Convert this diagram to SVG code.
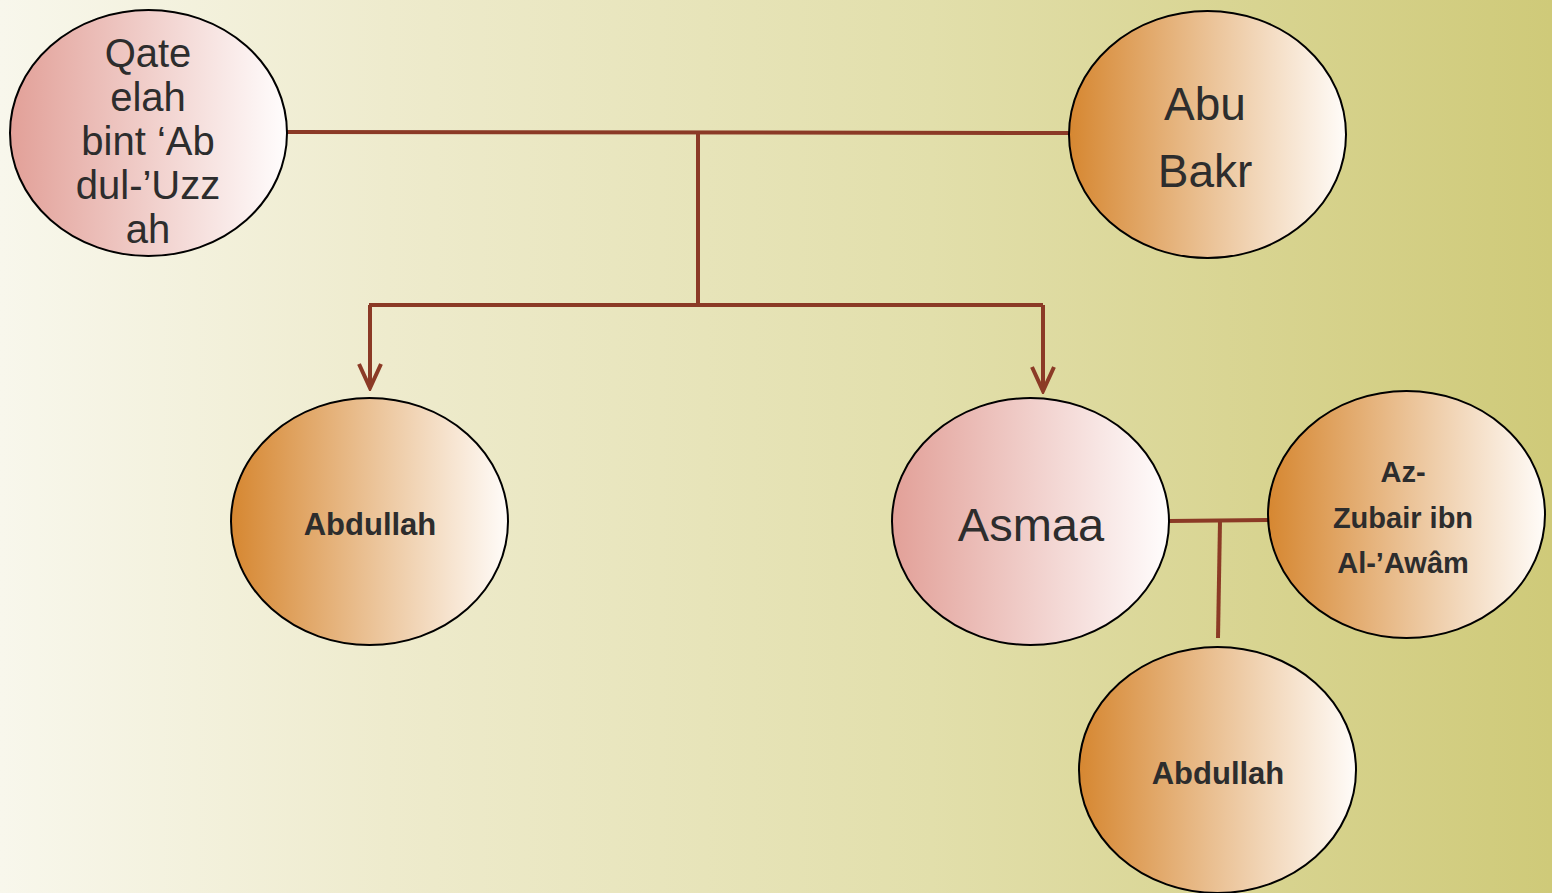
<svg xmlns="http://www.w3.org/2000/svg" width="1552" height="893" viewBox="0 0 1552 893">
<defs>
<linearGradient id="bg" x1="0" y1="0" x2="1" y2="0">
<stop offset="0" stop-color="#f8f7ec"/>
<stop offset="0.25" stop-color="#eeebcd"/>
<stop offset="0.6" stop-color="#e2dfab"/>
<stop offset="1" stop-color="#cfca79"/>
</linearGradient>
<linearGradient id="pink" x1="0" y1="0" x2="1" y2="0">
<stop offset="0" stop-color="#e2a098"/>
<stop offset="1" stop-color="#fffdfd"/>
</linearGradient>
<linearGradient id="orange" x1="0" y1="0" x2="1" y2="0">
<stop offset="0" stop-color="#d68731"/>
<stop offset="1" stop-color="#fffcf9"/>
</linearGradient>
<marker id="arr" viewBox="0 0 30 30" refX="27" refY="15" markerWidth="30" markerHeight="30" markerUnits="userSpaceOnUse" orient="auto">
<path d="M3 4 L27 15 L3 26" fill="none" stroke="#8b3a26" stroke-width="4"/>
</marker>
</defs>
<style>
.node{stroke:#000;stroke-width:2}
.p{fill:url(#pink)}
.o{fill:url(#orange)}
.t{font-family:"Liberation Sans",Arial,sans-serif;fill:#2d2d2d;text-anchor:middle}
.b{font-weight:bold}
.conn{fill:none;stroke:#8b3a26;stroke-width:4}
</style>
<rect width="1552" height="893" fill="url(#bg)"/>
<g id="connectors">
<path class="conn" d="M287 132 L1069 133"/>
<path class="conn" d="M698 133 L698 303"/>
<path class="conn" d="M369 305 L1043 305"/>
<path class="conn" d="M370 305 L370 388" marker-end="url(#arr)"/>
<path class="conn" d="M1043 305 L1043 391" marker-end="url(#arr)"/>
<path class="conn" d="M1169 521 L1268 520"/>
<path class="conn" d="M1220 521 L1218 638"/>
</g>
<g id="qateelah">
<ellipse class="node p" cx="148.5" cy="133" rx="138.5" ry="123"/>
<text class="t" font-size="40" x="148" y="67">Qate</text>
<text class="t" font-size="40" x="148" y="111">elah</text>
<text class="t" font-size="40" x="148" y="155">bint ‘Ab</text>
<text class="t" font-size="40" x="148" y="199">dul-’Uzz</text>
<text class="t" font-size="40" x="148" y="243">ah</text>
</g>
<g id="abubakr">
<ellipse class="node o" cx="1207.5" cy="134.5" rx="138.5" ry="123.5"/>
<text class="t" font-size="46" x="1205" y="120">Abu</text>
<text class="t" font-size="46" x="1205" y="187">Bakr</text>
</g>
<g id="abdullah1">
<ellipse class="node o" cx="369.5" cy="521.5" rx="138.5" ry="123.5"/>
<text class="t b" font-size="31" x="370" y="535">Abdullah</text>
</g>
<g id="asmaa">
<ellipse class="node p" cx="1030.5" cy="521.5" rx="138.5" ry="123.5"/>
<text class="t" font-size="47" x="1031" y="541">Asmaa</text>
</g>
<g id="zubair">
<ellipse class="node o" cx="1406.5" cy="514.5" rx="138.5" ry="123.5"/>
<text class="t b" font-size="29" x="1403" y="482">Az-</text>
<text class="t b" font-size="29" x="1403" y="528">Zubair ibn</text>
<text class="t b" font-size="29" x="1403" y="573">Al-’Awâm</text>
</g>
<g id="abdullah2">
<ellipse class="node o" cx="1217.5" cy="770" rx="138.5" ry="123"/>
<text class="t b" font-size="31" x="1218" y="784">Abdullah</text>
</g>
</svg>
